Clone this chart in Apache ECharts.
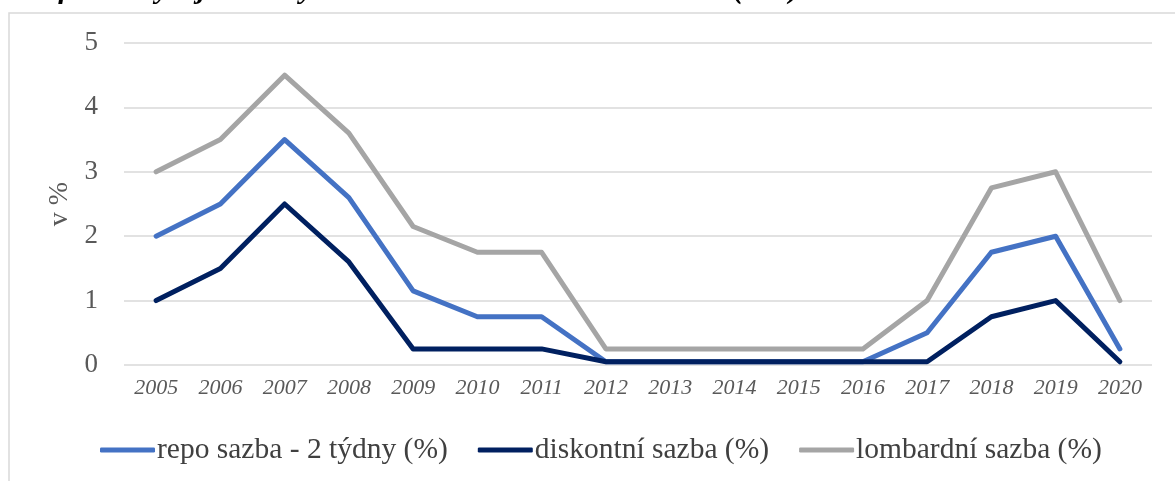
<!DOCTYPE html>
<html>
<head>
<meta charset="utf-8">
<script src="https://cdn.jsdelivr.net/npm/echarts@6/dist/echarts.min.js"></script>
<style>
    html, body { margin: 0; padding: 0; background: #fff; }
    #chart { width: 1175px; height: 481px; }
</style>
</head>
<body>
<div id="chart"></div>
<script>
// roky a sazby CNB (v %)
var years = ['2005','2006','2007','2008','2009','2010','2011','2012','2013','2014','2015','2016','2017','2018','2019','2020'];
var repoRate = [2, 2.5, 3.5, 2.6, 1.15, 0.75, 0.75, 0.05, 0.05, 0.05, 0.05, 0.05, 0.5, 1.75, 2, 0.25];
var discountRate = [1, 1.5, 2.5, 1.6, 0.25, 0.25, 0.25, 0.05, 0.05, 0.05, 0.05, 0.05, 0.05, 0.75, 1, 0.05];
var lombardRate = [3, 3.5, 4.5, 3.6, 2.15, 1.75, 1.75, 0.25, 0.25, 0.25, 0.25, 0.25, 1, 2.75, 3, 1];
var seriesNames = ['repo sazba - 2 týdny (%)', 'diskontní sazba (%)', 'lombardní sazba (%)'];
var yTicks = [0, 1, 2, 3, 4, 5];

var serif = '"Liberation Serif", "DejaVu Serif", serif';
var chart = echarts.init(document.getElementById('chart'));

function lineSeries(name, data, color){
    return {
        name: name,
        type: 'line',
        data: data,
        symbol: 'none',
        lineStyle: { color: color, width: 5, cap: 'round', join: 'round' },
        itemStyle: { color: color }
    };
}

var option = {
    animation: false,
    graphic: [
        {
            type: 'rect',
            shape: { x: 9, y: 13, width: 1300, height: 600 },
            style: { fill: 'none', stroke: '#d9d9d9', lineWidth: 1.5 },
            silent: true
        },
        {
            type: 'text',
            left: 10,
            top: -25,
            style: {
                text: 'Graf 10 – Vývoj úrokových sazeb ČNB v letech 2005-2020 (v %)',
                font: 'italic bold 30px ' + serif,
                fill: '#000'
            }
        }
    ],
    grid: {
        left: 124,
        right: 23,
        top: 43,
        bottom: 116
    },
    legend: {
        data: seriesNames,
        left: 95,
        top: 430,
        icon: 'roundRect',
        itemWidth: 55,
        itemHeight: 5,
        itemGap: 30,
        textStyle: { fontFamily: serif, fontSize: 29.5, color: '#404040', padding: [0, 0, 0, -3] }
    },
    xAxis: {
        type: 'category',
        data: years,
        boundaryGap: true,
        axisLine: { show: false },
        axisTick: { show: false },
        axisLabel: {
            fontFamily: serif,
            fontStyle: 'italic',
            fontSize: 22,
            color: '#595959',
            margin: 12,
            interval: 0
        }
    },
    yAxis: {
        type: 'value',
        min: yTicks[0],
        max: yTicks[yTicks.length - 1],
        interval: 1,
        name: 'v %',
        nameLocation: 'middle',
        nameGap: 48,
        nameRotate: 90,
        nameTextStyle: { fontFamily: serif, fontSize: 28, color: '#595959' },
        axisLine: { show: false },
        axisTick: { show: false },
        axisLabel: {
            fontFamily: serif,
            fontSize: 27,
            color: '#595959',
            margin: 26
        },
        splitLine: { lineStyle: { color: '#d9d9d9', width: 1.5 } }
    },
    series: [
        lineSeries(seriesNames[0], repoRate, '#4472c4'),
        lineSeries(seriesNames[1], discountRate, '#002060'),
        lineSeries(seriesNames[2], lombardRate, '#a5a5a5')
    ]
};
chart.setOption(option);
</script>
</body>
</html>
